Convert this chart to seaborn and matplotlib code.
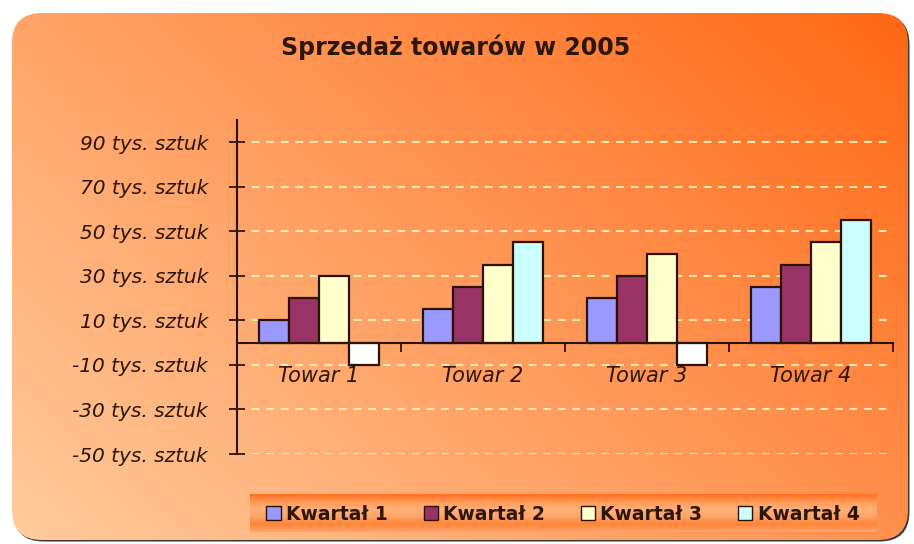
import numpy as np
import pandas as pd
import matplotlib
matplotlib.use('Agg')
import matplotlib.pyplot as plt
import seaborn as sns
from matplotlib.patches import FancyBboxPatch, Patch
from matplotlib.colors import LinearSegmentedColormap

# =====================================
# Data
# =====================================
TOWARY = ['Towar 1', 'Towar 2', 'Towar 3', 'Towar 4']
KWARTALY = ['Kwartał 1', 'Kwartał 2', 'Kwartał 3', 'Kwartał 4']
KWARTAL_1 = [10, 15, 20, 25]
KWARTAL_2 = [20, 25, 30, 35]
KWARTAL_3 = [30, 35, 40, 45]
KWARTAL_4 = [-10, 45, -10, 55]
Y_TICKS = [-50, -30, -10, 10, 30, 50, 70, 90]
Y_LABELS = [f'{v} tys. sztuk' for v in Y_TICKS]
TITLE = 'Sprzedaż towarów w 2005'

# =====================================
# Style
# =====================================
COLORS = ['#9999FF', '#993366', '#FFFFCC', '#CCFFFF']
EDGE = '#2a1206'
TEXT = '#2b1608'
GRID = '#FFEFB8'
W, H = 914, 544

sns.set_style('white')
plt.rcParams['font.family'] = ['DejaVu Sans']

fig = plt.figure(figsize=(W / 100, H / 100), dpi=100, facecolor='white')

# ---- background card (pixel coordinates, y from top) ----
bg = fig.add_axes([0, 0, 1, 1])
bg.axis('off')

shadow = FancyBboxPatch((13.5, 14.5), 896, 527, boxstyle='round,pad=0,rounding_size=30',
                        fc='#3a3a3a', ec='none', zorder=0)
card = FancyBboxPatch((12, 13), 896, 527, boxstyle='round,pad=0,rounding_size=30',
                      fc='none', ec='none', zorder=1)
bg.add_patch(shadow)
bg.add_patch(card)

u, v = np.meshgrid(np.linspace(0, 1, 300), np.linspace(0, 1, 200))
grad = 0.6 * u + 0.4 * (1 - v)
bg_cmap = LinearSegmentedColormap.from_list('bg', ['#FFCB9C', '#FF9A5C', '#FF6814'])
im = bg.imshow(grad, cmap=bg_cmap, extent=(12, 908, 540, 13), origin='upper',
               aspect='auto', interpolation='bilinear', zorder=1)
im.set_clip_path(card)

# legend band
band = np.linspace(0, 1, 60).reshape(-1, 1)
band_cmap = LinearSegmentedColormap.from_list(
    'band', ['#FF6E1E', '#FF9A55', '#FFB07A', '#FFA466', '#FF8436', '#FFA46C'])
bg.imshow(band, cmap=band_cmap, extent=(250, 877, 532, 494), origin='upper',
          aspect='auto', interpolation='bilinear', zorder=2)

bg.set_xlim(0, W)
bg.set_ylim(H, 0)

# ---- main chart ----
ax = fig.add_axes([237 / W, (H - 454) / H, (893 - 237) / W, (454 - 120) / H])
ax.patch.set_alpha(0)

df = pd.DataFrame({
    'towar': TOWARY * 4,
    'kwartal': np.repeat(KWARTALY, len(TOWARY)),
    'sztuki': KWARTAL_1 + KWARTAL_2 + KWARTAL_3 + KWARTAL_4,
})
sns.barplot(data=df, x='towar', y='sztuki', hue='kwartal', palette=COLORS,
            width=0.73, saturation=1, edgecolor=EDGE, linewidth=1.6,
            legend=False, ax=ax, zorder=3)

# Excel-like "invert if negative"
for cont in ax.containers:
    for bar in cont:
        if bar.get_height() < 0:
            bar.set_facecolor('white')

ax.set_xlim(-0.5, len(TOWARY) - 0.5)
ax.set_ylim(-50, 100)
ax.set_xlabel('')
ax.set_ylabel('')

ax.set_yticks(Y_TICKS, Y_LABELS)
ax.tick_params(axis='y', left=True, direction='inout', length=12, width=1.3, color=EDGE,
               pad=15, labelsize=14.5, labelcolor=TEXT)
for lbl in ax.get_yticklabels():
    lbl.set_fontstyle('italic')

ax.spines['bottom'].set_position(('data', 0))
for side in ['top', 'right']:
    ax.spines[side].set_visible(False)
for side in ['left', 'bottom']:
    ax.spines[side].set_color(EDGE)
    ax.spines[side].set_linewidth(1.5)
    ax.spines[side].set_zorder(4)

ax.set_xticks(np.arange(len(TOWARY) + 1) - 0.5, minor=True)
ax.tick_params(axis='x', which='minor', bottom=True, direction='out', length=6.5,
               width=1.3, color=EDGE)
ax.tick_params(axis='x', which='major', bottom=True, length=0, pad=17,
               labelsize=15, labelcolor=TEXT)
for lbl in ax.get_xticklabels():
    lbl.set_fontstyle('italic')

ax.yaxis.grid(True, linestyle=(0, (4, 3.5)), color=GRID, linewidth=1.4)
ax.set_axisbelow(True)

# ---- title & legend ----
fig.text(456 / W, 1 - 47 / H, TITLE, ha='center', va='center',
         fontsize=17, fontweight='bold', color=TEXT)

handles = [Patch(facecolor=c, edgecolor=EDGE, linewidth=1) for c in COLORS]
fig.legend(handles, KWARTALY, loc='center', bbox_to_anchor=(563 / W, 1 - 514 / H),
           ncol=4, frameon=False, prop={'weight': 'bold', 'size': 13.5},
           handlelength=0.75, handleheight=0.75, handletextpad=0.3,
           columnspacing=1.9, labelcolor=TEXT)

fig.savefig('out.png', dpi=100, facecolor='white')
